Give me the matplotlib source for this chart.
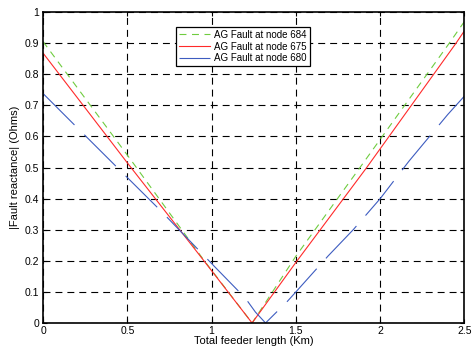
import matplotlib
matplotlib.use('Agg')
import matplotlib.pyplot as plt

plt.rcParams['font.family'] = ['Liberation Sans', 'DejaVu Sans']
plt.rcParams['font.size'] = 7
plt.rcParams['lines.scale_dashes'] = False

# values
x_684 = [0, 0.5, 0.95, 1.24, 1.5, 1.88, 2.41, 2.5]
y_684 = [0.905, 0.54, 0.205, 0.0, 0.215, 0.5, 0.9, 0.97]

x_675 = [0, 0.5, 0.94, 1.24, 1.5, 1.92, 2.45, 2.5]
y_675 = [0.868, 0.515, 0.21, 0.0, 0.195, 0.5, 0.9, 0.94]

x_680 = [0, 0.19, 0.44, 0.70, 0.94, 1.02, 1.2, 1.26, 1.32, 1.45, 1.5, 1.69,
         1.84, 2.0, 2.17, 2.4, 2.5]
y_680 = [0.738, 0.635, 0.50, 0.36, 0.225, 0.18, 0.08, 0.035, 0.0, 0.07, 0.10,
         0.215, 0.30, 0.40, 0.52, 0.67, 0.73]

fig = plt.figure(figsize=(4.73, 3.49), dpi=100)
ax = fig.add_axes([0.091, 0.0745, 0.891, 0.891])

ax.plot(x_684, y_684, color='#6fcc3f', lw=0.8, dashes=(5, 4),
        label='AG Fault at node 684')
ax.plot(x_675, y_675, color='#ff2a2a', lw=0.8, label='AG Fault at node 675')
ax.plot(x_680, y_680, color='#3d5cc0', lw=0.8, dashes=(32, 10),
        label='AG Fault at node 680')

ax.set_xlim(0, 2.5)
ax.set_ylim(0, 1)
ax.set_xticks([0, 0.5, 1, 1.5, 2, 2.5])
ax.set_xticklabels(['0', '0.5', '1', '1.5', '2', '2.5'])
ax.set_yticks([i / 10 for i in range(11)])
ax.set_yticklabels(['0', '0.1', '0.2', '0.3', '0.4', '0.5', '0.6', '0.7',
                    '0.8', '0.9', '1'])
ax.tick_params(direction='in', length=3, width=0.8, top=True, right=True,
               pad=3, labelsize=7.5)
ax.tick_params(axis='x', pad=2.5)
ax.grid(True, color='black', lw=0.8, linestyle=(0, (5, 3.6)))
ax.set_axisbelow(True)
for s in ax.spines.values():
    s.set_linewidth(1.2)

ax.set_xlabel('Total feeder length (Km)', fontsize=8, labelpad=0)
ax.set_ylabel('|Fault reactance| (Ohms)', fontsize=8, labelpad=3)

leg = ax.legend(loc='upper left', bbox_to_anchor=(0.316, 0.953), fontsize=7,
                fancybox=False, framealpha=1, edgecolor='black',
                handlelength=3.2, borderpad=0.3, labelspacing=0.2,
                handletextpad=0.4, borderaxespad=0)
leg.get_frame().set_linewidth(0.9)

fig.savefig('out.png', dpi=100)
